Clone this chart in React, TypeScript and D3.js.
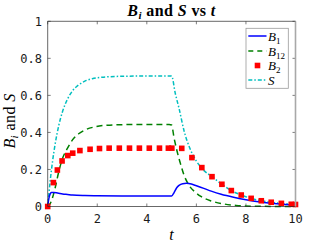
import React from 'react';
import * as d3 from 'd3';

// values
const b1T = [0, 0.05, 0.1, 0.15, 0.25, 0.4, 0.6, 0.8, 1.0, 1.5, 2.0, 3.0, 5.0, 5.1, 5.2, 5.3, 5.45, 5.6, 5.8, 6.0, 6.3, 6.6, 7.0, 7.5, 8.0, 8.5, 9.0, 9.5, 10];
const b1V = [0, 0.045, 0.068, 0.075, 0.076, 0.073, 0.068, 0.065, 0.062, 0.059, 0.058, 0.057, 0.057, 0.075, 0.1, 0.114, 0.123, 0.125, 0.121, 0.112, 0.098, 0.083, 0.066, 0.05, 0.037, 0.026, 0.018, 0.012, 0.008];

const b12T = [0, 0.1, 0.2, 0.3, 0.45, 0.6, 0.8, 1.0, 1.25, 1.5, 1.9, 2.4, 3.0, 4.0, 4.9, 5.0, 5.1, 5.2, 5.35, 5.5, 5.7, 5.95, 6.2, 6.6, 7.1, 7.6, 8.2, 9.0, 10];
const b12V = [0, 0.015, 0.05, 0.1, 0.19, 0.26, 0.315, 0.36, 0.393, 0.413, 0.43, 0.439, 0.442, 0.443, 0.443, 0.44, 0.37, 0.31, 0.235, 0.17, 0.115, 0.078, 0.053, 0.03, 0.014, 0.006, 0.002, 0.0005, 0];

const b2T = [0, 0.23, 0.39, 0.58, 0.81, 1.01, 1.3, 1.71, 2.09, 2.48, 2.89, 3.3, 3.7, 4.1, 4.51, 4.87, 5.01, 5.41, 5.82, 6.22, 6.63, 7.03, 7.41, 7.81, 8.21, 8.62, 9.02, 9.43, 9.83, 10];
const b2V = [0, 0.129, 0.197, 0.246, 0.275, 0.288, 0.302, 0.309, 0.313, 0.315, 0.315, 0.315, 0.315, 0.315, 0.315, 0.315, 0.315, 0.314, 0.264, 0.21, 0.161, 0.12, 0.086, 0.062, 0.044, 0.031, 0.023, 0.017, 0.012, 0.011];

const sT = [0, 0.1, 0.2, 0.3, 0.45, 0.6, 0.8, 1.0, 1.25, 1.5, 1.8, 2.2, 2.7, 3.5, 5.0, 5.15, 5.3, 5.5, 5.75, 6.0, 6.3, 6.63, 7.03, 7.41, 7.81, 8.21, 8.62, 9.02, 9.43, 9.83, 10];
const sV = [0, 0.137, 0.248, 0.337, 0.439, 0.513, 0.58, 0.624, 0.657, 0.677, 0.69, 0.698, 0.702, 0.704, 0.704, 0.61, 0.53, 0.41, 0.31, 0.245, 0.195, 0.161, 0.12, 0.086, 0.062, 0.044, 0.031, 0.023, 0.017, 0.012, 0.011];

const xTicks = [0, 2, 4, 6, 8, 10];
const yTicks = [0, 0.2, 0.4, 0.6, 0.8, 1];

const W = 327;
const H = 245;
const left = 47.7, right = 295.5, top = 21.3, bottom = 206.5;

const zip = (t: number[], v: number[]) => t.map((d, i) => [d, v[i]] as [number, number]);

export default function App() {
  const x = d3.scaleLinear().domain([0, 10]).range([left, right]);
  const y = d3.scaleLinear().domain([0, 1]).range([bottom, top]);
  const line = d3.line<[number, number]>()
    .x(d => x(d[0]))
    .y(d => y(d[1]))
    .curve(d3.curveMonotoneX);

  const axisColor = '#262626';
  const tickFont = { fontFamily: 'DejaVu Sans Mono', fontSize: 12, fill: '#1a1a1a' };
  const serif = 'Liberation Serif';

  const legendRows = [
    { y: 36, kind: 'b1', sub: '1', label: 'B' },
    { y: 51, kind: 'b12', sub: '12', label: 'B' },
    { y: 65.5, kind: 'b2', sub: '2', label: 'B' },
    { y: 80, kind: 's', sub: '', label: 'S' },
  ];

  return (
    <svg width={W} height={H} style={{ position: 'absolute', left: 0, top: 0, background: '#fff' }}>
      <rect x={0} y={0} width={W} height={H} fill="#fff" />

      {/* ticks */}
      {xTicks.map(t => (
        <g key={'xt' + t}>
          <line x1={x(t)} x2={x(t)} y1={bottom} y2={bottom - 3} stroke={axisColor} strokeWidth={0.6} />
          <line x1={x(t)} x2={x(t)} y1={top} y2={top + 3} stroke={axisColor} strokeWidth={0.6} />
          <text x={x(t)} y={222.5} textAnchor="middle" {...tickFont}>{t}</text>
        </g>
      ))}
      {yTicks.map(t => (
        <g key={'yt' + t}>
          <line x1={left} x2={left + 3} y1={y(t)} y2={y(t)} stroke={axisColor} strokeWidth={0.6} />
          <line x1={right} x2={right - 3} y1={y(t)} y2={y(t)} stroke={axisColor} strokeWidth={0.6} />
          <text x={42} y={y(t) + 4.3} textAnchor="end" {...tickFont}>{t}</text>
        </g>
      ))}

      {/* series */}
      <path d={line(zip(sT, sV)) || ''} fill="none" stroke="#00bfbf" strokeWidth={1.5} strokeDasharray="4,2,1.5,2" />
      <path d={line(zip(b12T, b12V)) || ''} fill="none" stroke="#008000" strokeWidth={1.5} strokeDasharray="6,4" />
      <path d={line(zip(b1T, b1V)) || ''} fill="none" stroke="#0000ff" strokeWidth={1.5} />
      {zip(b2T, b2V).map((d, i) => (
        <rect key={'m' + i} x={x(d[0]) - 2.8} y={y(d[1]) - 2.8} width={5.6} height={5.6} fill="#ff0000" />
      ))}

      {/* box */}
      <line x1={left} x2={left} y1={top} y2={bottom} stroke={axisColor} strokeWidth={0.7} />
      <line x1={left} x2={right} y1={bottom} y2={bottom} stroke={axisColor} strokeWidth={0.7} />
      <line x1={left} x2={right} y1={top} y2={top} stroke={axisColor} strokeWidth={0.7} />
      <line x1={right} x2={right} y1={top} y2={bottom} stroke="#a8a8a8" strokeWidth={1.6} />

      {/* legend */}
      <rect x={246} y={28.3} width={42.3} height={60} fill="#fff" stroke="#9a9a9a" strokeWidth={0.8} />
      {legendRows.map(r => (
        <g key={r.kind}>
          {r.kind === 'b1' && <line x1={248.3} x2={266.5} y1={r.y} y2={r.y} stroke="#0000ff" strokeWidth={1.5} />}
          {r.kind === 'b12' && <line x1={248.3} x2={266.5} y1={r.y} y2={r.y} stroke="#008000" strokeWidth={1.5} strokeDasharray="5,4" />}
          {r.kind === 'b2' && <rect x={254.7} y={r.y - 2.8} width={5.6} height={5.6} fill="#ff0000" />}
          {r.kind === 's' && <line x1={248.3} x2={266.5} y1={r.y} y2={r.y} stroke="#00bfbf" strokeWidth={1.5} strokeDasharray="4,2,1.5,2" />}
          <text x={268} y={r.y + 4.5} fontFamily={serif} fontSize={13} fontStyle="italic" fill="#000">
            {r.label}
            {r.sub && <tspan fontStyle="normal" fontSize={9} dy={3}>{r.sub}</tspan>}
          </text>
        </g>
      ))}

      {/* title */}
      <text x={171.5} y={16} textAnchor="middle" fontFamily={serif} fontSize={16} fontWeight="bold" letterSpacing={0.4} fill="#000">
        <tspan fontStyle="italic">B</tspan>
        <tspan fontStyle="italic" fontSize={11} dy={3}>i</tspan>
        <tspan dy={-3}> and </tspan>
        <tspan fontStyle="italic">S</tspan>
        <tspan> vs </tspan>
        <tspan fontStyle="italic">t</tspan>
      </text>

      {/* axis labels */}
      <text x={171.5} y={239.5} textAnchor="middle" fontFamily={serif} fontSize={16} fontStyle="italic" fill="#000">t</text>
      <text transform="translate(14.5,121) rotate(-90)" textAnchor="middle" fontFamily={serif} fontSize={16} letterSpacing={0.4} fill="#000">
        <tspan fontStyle="italic">B</tspan>
        <tspan fontStyle="italic" fontSize={11} dy={3}>i</tspan>
        <tspan dy={-3}> and </tspan>
        <tspan fontStyle="italic">S</tspan>
      </text>
    </svg>
  );
}
